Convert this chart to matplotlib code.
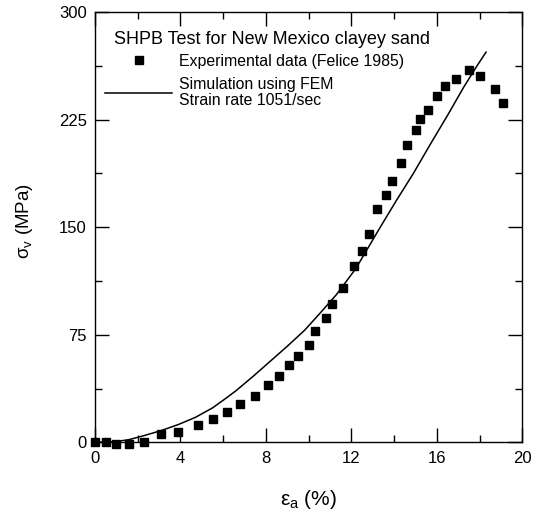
import matplotlib
matplotlib.use('Agg')
import matplotlib.pyplot as plt
from matplotlib.ticker import MultipleLocator

plt.rcParams['font.family'] = ['Liberation Sans', 'DejaVu Sans']
plt.rcParams['mathtext.fontset'] = 'custom'
plt.rcParams['mathtext.rm'] = 'Liberation Sans'
plt.rcParams['mathtext.it'] = 'Liberation Sans'

# Experimental data (Felice 1985)
exp_strain = [0.0, 0.5, 1.0, 1.6, 2.3, 3.1, 3.9, 4.8, 5.5, 6.2, 6.8, 7.5, 8.1,
              8.6, 9.1, 9.5, 10.0, 10.3, 10.8, 11.1, 11.6, 12.1, 12.5, 12.8,
              13.2, 13.6, 13.9, 14.3, 14.6, 15.0, 15.2, 15.6, 16.0, 16.4,
              16.9, 17.5, 18.0, 18.7, 19.1]
exp_stress = [0, 0, -1, -1.5, 0.5, 6, 7, 12, 16.5, 21, 27, 32, 40, 46, 54, 60,
              68, 77.5, 87, 96.5, 107.5, 123, 133.5, 145.5, 162.5, 172.5, 182.5,
              194.5, 207.5, 217.5, 225.5, 231.5, 241.5, 248.5, 253, 259.5,
              255.5, 246.5, 236.5]

# Simulation using FEM, strain rate 1051/sec
fem_strain = [0.0, 0.9, 1.6, 2.3, 3.1, 3.9, 4.7, 5.5, 6.2, 6.6, 7.4, 8.2, 9.0,
              9.8, 10.5, 11.3, 12.2, 13.35, 14.1, 14.9, 15.7, 16.5, 17.25,
              17.9, 18.3]
fem_stress = [0, 0.3, 1.9, 4.7, 8.2, 12.4, 17.4, 24, 31.5, 36, 46, 56.5, 67,
              78, 89.5, 103, 121, 150, 168.5, 187.5, 208, 228, 247.5, 263, 272]

fig = plt.figure(figsize=(5.41, 5.12), dpi=100)
ax = fig.add_axes([0.1756, 0.1361, 0.79, 0.8405])

ax.plot(exp_strain, exp_stress, 's', color='black', markersize=6.2,
        linestyle='none', clip_on=False, label='Experimental data (Felice 1985)')
ax.plot(fem_strain, fem_stress, '-', color='black', linewidth=1.1,
        label='Simulation using FEM\nStrain rate 1051/sec')

ax.set_xlim(0, 20)
ax.set_ylim(0, 300)
ax.xaxis.set_major_locator(MultipleLocator(4))
ax.xaxis.set_minor_locator(MultipleLocator(2))
ax.yaxis.set_major_locator(MultipleLocator(75))
ax.yaxis.set_minor_locator(MultipleLocator(37.5))
ax.tick_params(which='both', direction='in', top=True, right=True,
               labelsize=12, width=1, pad=6)
ax.tick_params(which='major', length=10)
ax.tick_params(which='minor', length=5)
for s in ax.spines.values():
    s.set_linewidth(1)

ax.set_xlabel(r'$\mathrm{ε_a}$ (%)', fontsize=15, labelpad=16)
ax.set_ylabel(r'$\mathrm{σ_v}$ (MPa)', fontsize=13.5, labelpad=17)
ax.yaxis.label.set_y(0.515)

ax.text(0.044, 0.936, 'SHPB Test for New Mexico clayey sand', fontsize=13,
        transform=ax.transAxes, ha='left', va='center')

leg = ax.legend(loc='upper left', frameon=False, fontsize=11.4,
                handlelength=4.25, handletextpad=0.42, borderpad=0,
                borderaxespad=0, labelspacing=0.55,
                bbox_to_anchor=(0.0234, 0.903))
for t in leg.get_texts():
    t.set_linespacing(1.05)

fig.savefig('out.png', dpi=100)
